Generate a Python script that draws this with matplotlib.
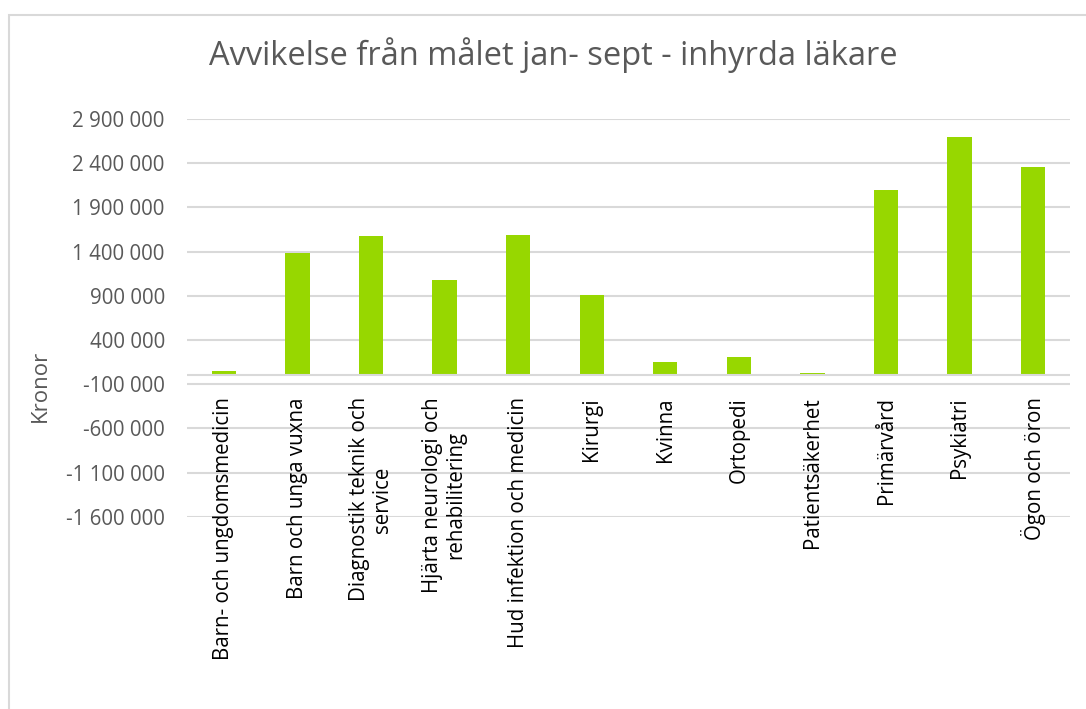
import matplotlib
matplotlib.use("Agg")
import matplotlib.pyplot as plt
from matplotlib.ticker import FuncFormatter
from matplotlib.patches import Rectangle

categories = [
    "Barn- och ungdomsmedicin",
    "Barn och unga vuxna",
    "Diagnostik teknik och\nservice",
    "Hjärta neurologi och\nrehabilitering",
    "Hud infektion och medicin",
    "Kirurgi",
    "Kvinna",
    "Ortopedi",
    "Patientsäkerhet",
    "Primärvård",
    "Psykiatri",
    "Ögon och öron",
]
values = [50000, 1384000, 1576000, 1078000, 1587000, 909000, 150000, 207000,
          26000, 2097000, 2696000, 2357000]
y_ticks = [-1600000, -1100000, -600000, -100000, 400000, 900000, 1400000,
           1900000, 2400000, 2900000]

title = "Avvikelse från målet jan- sept - inhyrda läkare"
ylabel = "Kronor"

GRAY = "#595959"
GRID = "#d9d9d9"
GREEN = "#97D700"

fig = plt.figure(figsize=(10.86, 7.09), dpi=100)
fig.patch.set_facecolor("white")

# outer chart border (partially visible)
fig.patches.append(Rectangle((9 / 1086, -0.05), 1.2, 1 - 15 / 709 + 0.05,
                             transform=fig.transFigure, fill=False,
                             edgecolor=GRID, linewidth=1.5))

ax = fig.add_axes([187 / 1086, 1 - 516.7 / 709, (1070 - 187) / 1086,
                   (516.7 - 119) / 709])
x = list(range(len(categories)))
ax.bar(x, values, width=0.33, color=GREEN, zorder=3)
ax.set_xlim(-0.5, len(categories) - 0.5)
ax.set_ylim(y_ticks[0], y_ticks[-1])
ax.set_yticks(y_ticks)
ax.yaxis.set_major_formatter(FuncFormatter(lambda v, p: f"{int(v):,}".replace(",", " ")))
ax.tick_params(axis="y", length=0, pad=16, labelsize=14.8, labelcolor=GRAY)
for lbl in ax.get_yticklabels():
    lbl.set_family("Open Sans")
ax.set_xticks([])
ax.grid(axis="y", color=GRID, linewidth=1.5, zorder=0)
for s in ax.spines.values():
    s.set_visible(False)
ax.axhline(0, color=GRID, linewidth=1.5, zorder=4)

for i, c in enumerate(categories):
    ax.annotate(c, xy=(i, 0), xytext=(0, -22), textcoords="offset pixels",
                rotation=90, ha="center", va="top", multialignment="center",
                fontsize=14.8, family="Open Sans", color="black",
                linespacing=1.15)

fig.text(553 / 1086, 1 - 55 / 709, title, ha="center", va="center",
         fontsize=23.5, color=GRAY, family="Open Sans")
fig.text(40 / 1086, 1 - 386 / 709, ylabel, ha="center", va="center",
         rotation=90, fontsize=16, color=GRAY, family="Open Sans")

fig.savefig("out.png", dpi=100, facecolor="white")
